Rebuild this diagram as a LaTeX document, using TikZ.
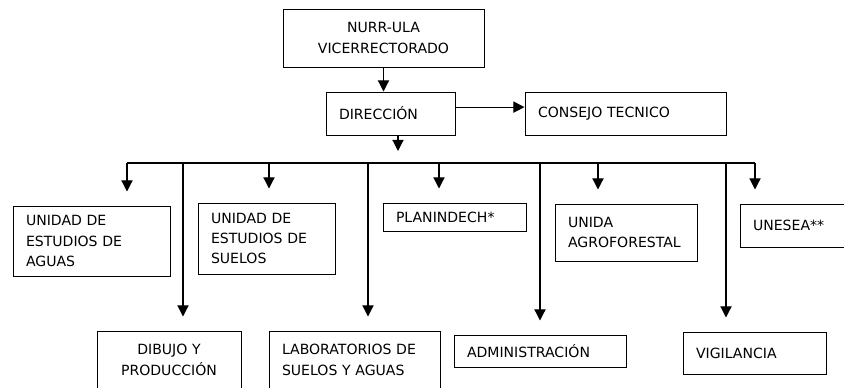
\documentclass[tikz,border=0pt]{standalone}
\usepackage{fontspec}
\setmainfont{DejaVu Sans}
\usetikzlibrary{arrows.meta}

\begin{document}
\begin{tikzpicture}[font=\fontsize{10}{14.5}\selectfont,
    box/.style={draw=black, line width=0.7pt, inner xsep=0.325cm, inner ysep=0pt, align=left},
    arr/.style={-{Triangle[length=0.28cm,width=0.28cm]}, line width=0.85pt},
    gap/.style={shorten >=0.35cm}]

   \useasboundingbox (0,0) rectangle (21.1,-9.7);

   \node[box, align=center, text width=4.375cm, minimum height=1.45cm] (1) at (9.5875,-0.95) {NURR-ULA\\VICERRECTORADO};
   \node[box, text width=2.575cm, minimum height=1.075cm] (2) at (9.7625,-2.8375) {DIRECCIÓN};
   \node[box, text width=4.375cm, minimum height=1.075cm] (3) at (15.6375,-2.8375) {CONSEJO TECNICO};

   \node[box, text width=3.275cm, minimum height=1.75cm] (4) at (2.2875,-6.025) {UNIDAD DE\\ESTUDIOS DE\\AGUAS};
   \node[box, text width=2.775cm, minimum height=1.775cm] (5) at (6.6625,-5.9625) {UNIDAD DE\\ESTUDIOS DE\\SUELOS};
   \node[box, text width=2.925cm, minimum height=0.7cm] (6) at (11.3625,-5.425) {PLANINDECH*};
   \node[box, text width=2.9cm, minimum height=1.425cm] (7) at (15.65,-5.8125) {UNIDA\\AGROFORESTAL};
   \node[box, text width=2.35cm, minimum height=1.075cm] (8) at (20,-5.6375) {UNESEA**};

   \node[box, align=center, text width=2.95cm, minimum height=1.45cm] (9) at (4.225,-9.0) {DIBUJO Y\\PRODUCCIÓN};
   \node[box, text width=3.625cm, minimum height=1.45cm] (10) at (8.8625,-9.0) {LABORATORIOS DE\\SUELOS Y AGUAS};
   \node[box, text width=3.65cm, minimum height=0.8cm] (11) at (13.5,-8.775) {ADMINISTRACIÓN};
   \node[box, text width=2.925cm, minimum height=1.05cm] (12) at (18.8625,-8.825) {VIGILANCIA};

   % bus below DIRECCION
   \coordinate (b) at (9.95,-3.775);
   \coordinate (d1) at (3.175,-4.075);
   \coordinate (d2) at (4.575,-4.075);
   \coordinate (d3) at (6.725,-4.075);
   \coordinate (d4) at (9.2,-4.075);
   \coordinate (d5) at (10.975,-4.075);
   \coordinate (d6) at (13.5,-4.075);
   \coordinate (d7) at (14.95,-4.075);
   \coordinate (d8) at (18.15,-4.075);
   \coordinate (d9) at (18.875,-4.075);

    \path[arr] (1.south) edge (1.south |- 2.north);
    \path[arr] ([yshift=0.16cm]2.east) edge ([yshift=0.16cm]3.west);
    \path[arr] (2.south -| b) edge (b);
    \draw[line width=0.85pt] (d1) -- (d9);

    \path[arr, gap] (d1) edge (d1 |- 4.north);
    \path[arr, gap] (d3) edge (d3 |- 5.north);
    \path[arr, gap] (d5) edge (d5 |- 6.north);
    \path[arr, gap] (d7) edge (d7 |- 7.north);
    \path[arr, gap] (d9) edge (d9 |- 8.north);

    \path[arr, gap] (d2) edge (d2 |- 9.north);
    \path[arr, gap] (d4) edge (d4 |- 10.north);
    \path[arr, gap] (d6) edge (d6 |- 11.north);
    \path[arr, gap] (d8) edge (d8 |- 12.north);

\end{tikzpicture}
\end{document}
